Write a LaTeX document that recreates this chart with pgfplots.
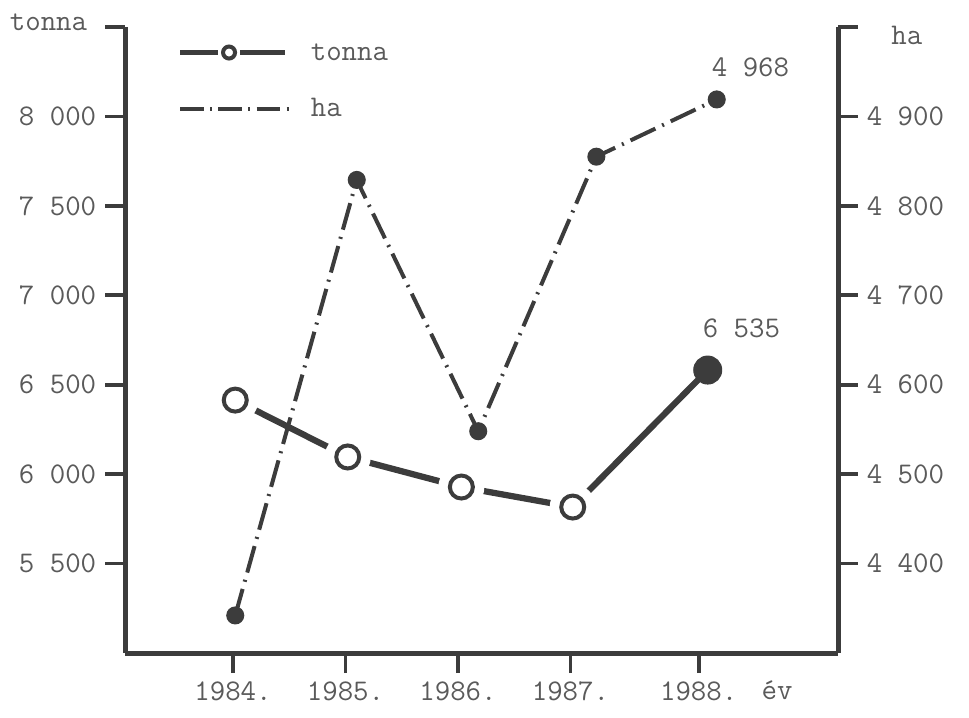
\documentclass[border=0pt]{standalone}
\usepackage{pgfplots}
\usepackage{pgfplotstable}
\pgfplotsset{compat=1.18}
\definecolor{ink}{HTML}{3C3C3C}
\definecolor{txt}{HTML}{5A5A5A}
\pgfplotstableread{
x y
1984.02 6414
1985.02 6096
1986.03 5928
1987.02 5816
1988.22 6582
}\tonnadata
\pgfplotstableread{
x y
1984.02 6414
1985.02 6096
1986.03 5928
1987.02 5816
}\tonnaopen
\pgfplotstableread{
x y
1984.02 4342
1985.10 4829
1986.18 4548
1987.23 4855
1988.30 4919
}\hadata
\begin{document}
\begin{tikzpicture}[font=\fontsize{12}{14}\selectfont\ttfamily]
\useasboundingbox (-50pt,-25.6pt) rectangle (337.6pt,261.2pt);
\pgfplotsset{
  common/.style={scale only axis, width=285.2pt, height=250.4pt,
    xmin=1983.04, xmax=1989.378,
    axis line style={line width=2pt, ink, -},
    x axis line style={-}, y axis line style={-},
    tick style={line width=1.5pt, ink},
    major tick length=8pt, tick align=outside,
    ticklabel style={txt, font=\fontsize{12}{14}\selectfont\ttfamily},
    clip=false},
}
\begin{axis}[common, ymin=5000, ymax=8500,
  axis x line*=bottom, axis y line*=left,
  xtick={1984,1985,1986,1987,1988.14},
  xticklabels={1984.,1985.,1986.,1987.,1988.},
  ytick={5500,6000,6500,7000,7500,8000,8500},
  yticklabels={5 500,6 000,6 500,7 000,7 500,8 000,{}},
  legend cell align=left,
  legend style={draw=none, fill=none, at={(0.073,0.980)}, anchor=north west,
    row sep=12.4pt, inner sep=0pt,
    nodes={text=txt, inner sep=0pt, text height=8pt, text depth=2pt},
    /tikz/every odd column/.append style={column sep=7.5pt}},
]
\addlegendimage{legend image code/.code={
  \draw[line width=2pt, ink] (0pt,0pt) -- (15pt,0pt);
  \draw[line width=2pt, ink] (24pt,0pt) -- (42pt,0pt);
  \draw[line width=1.6pt, ink] (19.6pt,0pt) circle (2.4pt);}}
\addlegendentry{tonna}
\addlegendimage{legend image code/.code={
  \draw[line width=1.6pt, ink, dash pattern=on 9.5pt off 2.5pt on 0.8pt off 2.5pt] (0pt,0pt) -- (44pt,0pt);}}
\addlegendentry{ha}
\addplot[ink, line width=2.5pt, forget plot] table[x=x,y=y] {\tonnadata};
\addplot[only marks, draw=white, fill=white, mark=*, mark size=9pt, mark options={fill=white, draw=white}, forget plot] table[x=x,y=y] {\tonnaopen};
\addplot[only marks, draw=ink, mark=o, mark size=4.6pt, mark options={line width=1.6pt, draw=ink}, forget plot] table[x=x,y=y] {\tonnaopen};
\addplot[only marks, draw=ink, mark=*, mark size=5.6pt, mark options={fill=ink, draw=ink}, forget plot] coordinates {(1988.22,6582)};
\node[txt] at (axis cs:1988.52,6817) {6 535};
\node[txt] at (axis cs:1982.36,8528) {tonna};
\node[txt, anchor=base] at (axis cs:1988.836,4740) {év};
\end{axis}
\begin{axis}[common, ymin=4300, ymax=5000,
  axis y line*=right, axis x line=none,
  ytick={4400,4500,4600,4700,4800,4900,5000},
  yticklabels={4 400,4 500,4 600,4 700,4 800,4 900,{}},
]
\addplot[ink, line width=1.6pt, dash pattern=on 11pt off 3pt on 0.8pt off 3pt,
  mark=*, mark size=2.8pt, mark options={solid, fill=ink, draw=ink}] table[x=x,y=y] {\hadata};
\node[txt] at (axis cs:1988.6,4955) {4 968};
\node[txt] at (axis cs:1989.99,4991) {ha};
\end{axis}
\end{tikzpicture}
\end{document}
